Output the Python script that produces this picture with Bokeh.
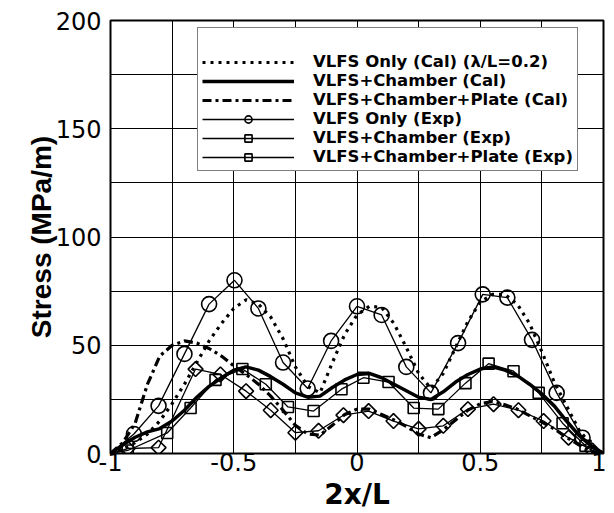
import math
from bokeh.plotting import figure
from bokeh.models import Legend, LegendItem, FixedTicker, Range1d
from bokeh.embed import file_html
from bokeh.resources import INLINE

# ---- calculated curves ----
x_cal = [-1, -0.95, -0.9, -0.85, -0.8, -0.75, -0.7, -0.65, -0.6, -0.55, -0.5,
         -0.45, -0.4, -0.35, -0.3, -0.25, -0.2, -0.15, -0.1, -0.05, 0,
         0.05, 0.1, 0.15, 0.2, 0.25, 0.3, 0.35, 0.4, 0.45, 0.5,
         0.55, 0.6, 0.65, 0.7, 0.75, 0.8, 0.85, 0.9, 0.95, 1]
only_cal = [0, 2, 5, 9, 15, 23, 32, 42, 52, 60, 67,
            71, 69, 63, 53, 40, 31, 28, 42, 55, 64,
            68, 67.5, 60, 49, 37, 30, 37, 49, 61, 70,
            73.5, 73.5, 69, 60, 47, 33, 22, 11, 4, 0]
chamber_cal = [0, 4, 7.5, 10, 11.5, 15, 20, 26, 31, 35, 38.5,
               40, 38.5, 35.5, 32, 28, 26, 26.5, 30.5, 34, 36.5,
               37, 35, 32, 29, 26, 25, 28.5, 33, 36.5, 39,
               40, 38.5, 36, 32, 27.5, 22, 15, 8.5, 3.5, 0]
plate_cal = [0, 5, 14, 32, 45, 50, 52, 51, 48.5, 45, 40.5,
             36.5, 32, 26.5, 20, 13, 9, 8.5, 13, 18, 20.5,
             20.5, 18, 15.5, 12.5, 9, 7.3, 11, 15.5, 20, 23,
             24, 22.5, 20.5, 17.5, 14.5, 11.4, 7.5, 4, 1, 0]

x_only_exp = [-1, -0.905, -0.805, -0.70, -0.60, -0.497, -0.40, -0.30, -0.20, -0.105, 0.0,
              0.10, 0.20, 0.30, 0.41, 0.51, 0.61, 0.71, 0.81, 0.915, 1]
only_exp = [0, 9, 22, 46, 69, 80, 67, 42, 30, 52, 68,
            64, 40, 28, 51, 73.5, 72, 52.5, 28, 7.3, 0]
x_chamber_exp = [-1, -0.93, -0.77, -0.675, -0.574, -0.465, -0.37, -0.28, -0.176, -0.063, 0.026,
                 0.128, 0.23, 0.33, 0.44, 0.534, 0.635, 0.737, 0.834, 0.927, 1]
chamber_exp = [0, 1.4, 9.5, 21, 34, 39, 32, 21.5, 19.6, 29.7, 35,
               33, 21, 20.5, 32.5, 41.5, 38, 28, 14, 3.6, 0]
x_plate_exp = [-1, -0.93, -0.805, -0.655, -0.554, -0.45, -0.35, -0.25, -0.156, -0.055, 0.047,
               0.148, 0.25, 0.35, 0.45, 0.554, 0.655, 0.757, 0.858, 0.955, 1]
plate_exp = [0, 2.3, 2.7, 39, 36.5, 28.8, 20, 9.6, 10.5, 17.7, 19.6,
             15, 11.4, 12.8, 20.5, 22.8, 20, 15, 7.3, 1.4, 0]

labels = ["VLFS Only (Cal) (\u03bb/L=0.2)", "VLFS+Chamber (Cal)", "VLFS+Chamber+Plate (Cal)",
          "VLFS Only (Exp)", "VLFS+Chamber (Exp)", "VLFS+Chamber+Plate (Exp)"]

x_ticks = [-1, -0.5, 0, 0.5, 1]
x_tick_labels = ["-1", "-0.5", "0", "0.5", "1"]
x_minor = [-0.75, -0.25, 0.25, 0.75]
y_ticks = [0, 50, 100, 150, 200]
y_minor = [25, 75, 125, 175]

p = figure(width=606, height=513, output_backend="svg", toolbar_location=None,
           x_range=Range1d(-1, 1), y_range=Range1d(0, 200),
           min_border_left=110, min_border_right=3, min_border_top=20, min_border_bottom=55)
p.background_fill_color = "white"
p.border_fill_color = "white"
p.outline_line_color = "black"
p.outline_line_width = 2

p.xaxis.ticker = FixedTicker(ticks=x_ticks, minor_ticks=x_minor)
p.yaxis.ticker = FixedTicker(ticks=y_ticks, minor_ticks=y_minor)
p.xaxis.major_label_overrides = {float(v): s for v, s in zip(x_ticks, x_tick_labels)}

for ax in (p.xaxis, p.yaxis):
    ax.axis_line_color = None
    ax.major_tick_line_color = None
    ax.minor_tick_line_color = None
    ax.major_tick_out = 0
    ax.major_tick_in = 0
    ax.minor_tick_out = 0
    ax.minor_tick_in = 0
    ax.major_label_text_font = "DejaVu Sans"
    ax.major_label_text_font_size = "24px"
    ax.major_label_text_color = "black"
    ax.axis_label_text_color = "black"
    ax.axis_label_text_font_style = "bold"

p.xaxis.axis_label = "2x/L"
p.xaxis.axis_label_text_font = "DejaVu Sans"
p.xaxis.axis_label_text_font_size = "28px"
p.xaxis.major_label_standoff = -1
p.xaxis.axis_label_standoff = 4

p.yaxis.axis_label = "Stress (MPa/m)"
p.yaxis.axis_label_text_font = "Liberation Sans"
p.yaxis.axis_label_text_font_size = "28px"
p.yaxis.major_label_standoff = 9
p.yaxis.axis_label_standoff = -4

for g in (p.xgrid, p.ygrid):
    g.grid_line_color = "black"
    g.grid_line_width = 1
    g.grid_line_alpha = 1
    g.minor_grid_line_color = "black"
    g.minor_grid_line_width = 1

# calculated curves
r_only_cal = p.line(x_cal, only_cal, line_color="black", line_width=3.2, line_dash="3 5")
r_ch_cal = p.line(x_cal, chamber_cal, line_color="black", line_width=3.5)
r_pl_cal = p.line(x_cal, plate_cal, line_color="black", line_width=3.2, line_dash="9 4 3 4")

# experimental
r_only_l = p.line(x_only_exp, only_exp, line_color="black", line_width=1.3)
r_only_m = p.scatter(x_only_exp[1:-1], only_exp[1:-1], marker="circle", size=15,
                     fill_color=None, line_color="black", line_width=1.6)
r_ch_l = p.line(x_chamber_exp, chamber_exp, line_color="black", line_width=1.3)
r_ch_m = p.scatter(x_chamber_exp[1:-1], chamber_exp[1:-1], marker="square", size=11,
                   fill_color=None, line_color="black", line_width=1.6)
r_pl_l = p.line(x_plate_exp, plate_exp, line_color="black", line_width=1.3)
r_pl_m = p.scatter(x_plate_exp[1:-1], plate_exp[1:-1], marker="square", size=10.5,
                   angle=math.pi / 4,
                   fill_color=None, line_color="black", line_width=1.6)

legend = Legend(items=[
    LegendItem(label=labels[0], renderers=[r_only_cal]),
    LegendItem(label=labels[1], renderers=[r_ch_cal]),
    LegendItem(label=labels[2], renderers=[r_pl_cal]),
    LegendItem(label=labels[3], renderers=[r_only_l, r_only_m]),
    LegendItem(label=labels[4], renderers=[r_ch_l, r_ch_m]),
    LegendItem(label=labels[5], renderers=[r_pl_l, r_pl_m]),
], location=(87, 282))
legend.title = " "
legend.title_text_font_size = "14px"
legend.title_standoff = 4
legend.label_text_font = "DejaVu Sans"
legend.label_text_font_style = "bold"
legend.label_text_font_size = "16.5px"
legend.label_text_color = "black"
legend.glyph_width = 92
legend.glyph_height = 18
legend.label_height = 18
legend.label_standoff = 19
legend.spacing = 0
legend.padding = 4
legend.margin = 0
legend.border_line_color = "black"
legend.border_line_width = 1.5
legend.background_fill_color = "white"
legend.background_fill_alpha = 1
p.add_layout(legend, "center")

open("out.html", "w").write(file_html(p, INLINE))
